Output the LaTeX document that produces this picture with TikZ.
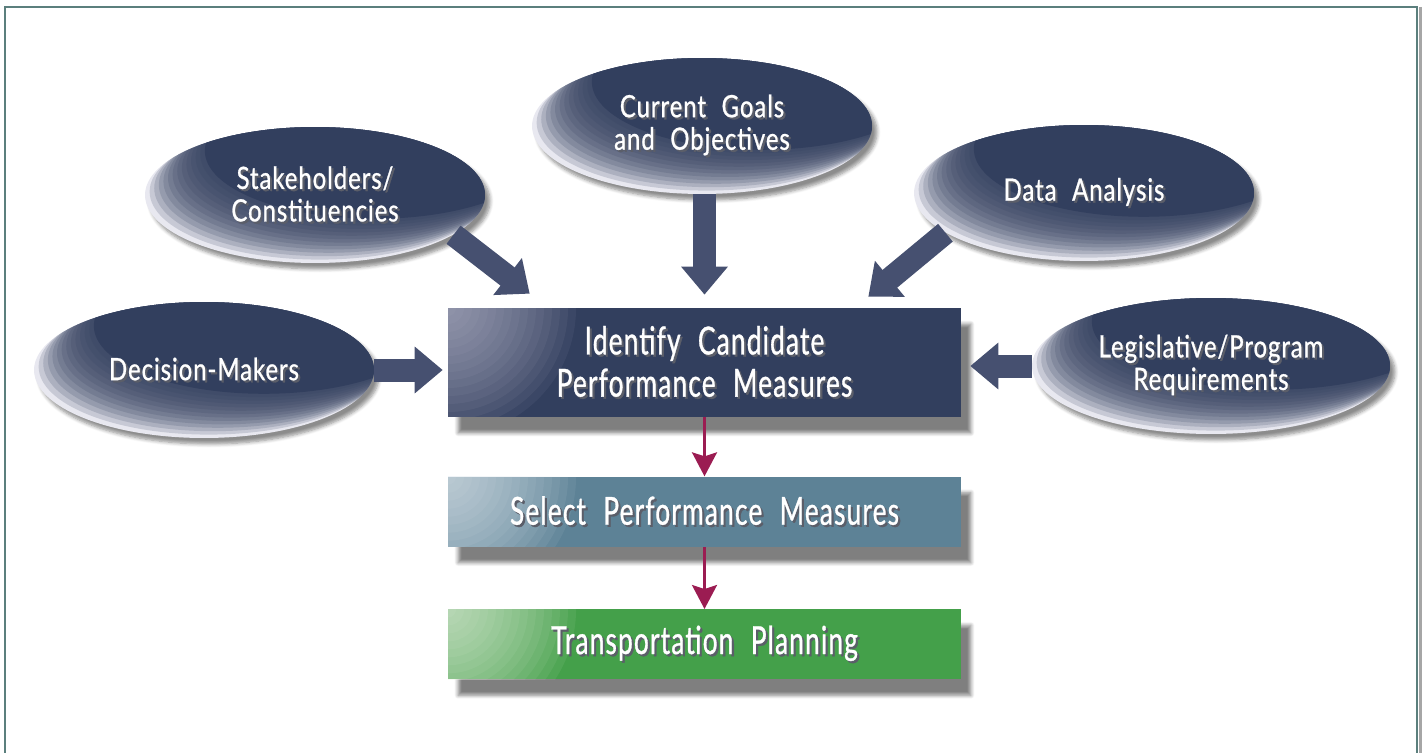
\documentclass[tikz,border=0pt]{standalone}
\usepackage{fontspec}
\setmainfont{Lato}[FakeStretch=0.78, LetterSpace=3, WordSpace=2.2, FakeBold=0.8]
\newfontfamily\boxfont{Lato}[FakeStretch=0.68, LetterSpace=3, WordSpace=2.2, FakeBold=0.8]
\usetikzlibrary{arrows.meta, positioning, calc, shadows, shadows.blur, shapes.geometric}

\definecolor{navy}{RGB}{50,63,94}
\definecolor{navyglow}{RGB}{232,232,240}
\definecolor{boxglow}{RGB}{190,190,208}
\definecolor{arrowblue}{RGB}{70,80,112}
\definecolor{steel}{RGB}{93,130,150}
\definecolor{steelglow}{RGB}{232,238,243}
\definecolor{leaf}{RGB}{68,160,74}
\definecolor{leafglow}{RGB}{238,246,232}
\definecolor{maroon}{RGB}{155,28,82}
\definecolor{framegreen}{RGB}{91,127,125}
\definecolor{textshade}{RGB}{20,25,40}

% white text with a dark offset copy underneath
\newcommand{\shadowed}[1]{\makebox[0pt][l]{\kern1.2pt\raisebox{-1.2pt}{\color{textshade!70}#1}}#1}

\begin{document}
\begin{tikzpicture}
   [
      x=0.02cm, y=-0.02cm,
      source/.style={ellipse, minimum width=6.8cm, minimum height=2.72cm, inner sep=0pt,
                     fill=navyglow, text=white, align=center,
                     blur shadow={shadow xshift=0.1cm, shadow yshift=-0.12cm, shadow opacity=45, shadow blur steps=6},
                     path picture={
                        \foreach \k/\op in {1/0.18,2/0.18,3/0.18,4/0.18,5/0.18,6/0.18,7/0.18,8/0.18,9/0.18,10/0.18,11/0.18,12/0.18,13/1}
                           \fill[navy, opacity=\op] let \p1 = ($(path picture bounding box.north east)-(path picture bounding box.center)$) in
                              ([shift={(4.6*\k,-3.4*\k)}]path picture bounding box.center) ellipse [x radius=\x1, y radius=\y1];},
                     font=\fontsize{17.5}{18.5}\selectfont},
      stage box/.style={rectangle, minimum width=10.26cm, minimum height=1.4cm, inner sep=0pt,
                        text=white, align=center,
                        blur shadow={shadow xshift=0.2cm, shadow yshift=-0.32cm, shadow opacity=50, shadow blur steps=8},
                        font=\boxfont\fontsize{22}{24}\selectfont},
      corner glow/.style 2 args={fill=#2, path picture={
                        \foreach \k in {1,...,16}
                           \fill[#1, opacity=0.07] (path picture bounding box.north west) circle (0.16cm*\k);}},
      feed arrow/.style={line width=0.46cm, arrowblue, -{Triangle[width=0.9cm, length=0.56cm]}},
      step arrow/.style={line width=0.06cm, maroon, -{Stealth[width=0.5cm, length=0.48cm, inset=0.08cm]}},
      frame line/.style={line width=0.05cm, framegreen}
   ]

   \useasboundingbox (0,0) rectangle (1422,753);

   % =======================================================
   % Frame
   % =======================================================
   \draw[gray!70, line width=0.06cm] (1420,7) -- (1420,760);
   \draw[frame line] (5,760) -- (5,7) -- (1417,7) -- (1417,760);

   % =======================================================
   % Inputs (ellipses)
   % =======================================================
   \node[source] (goals) at (702,126) {\shadowed{Current Goals}\\\shadowed{and Objectives}};
   \node[source] (stake) at (315,195) {\shadowed{Stakeholders/}\\\shadowed{Constituencies}};
   \node[source] (data) at (1084,193) {\shadowed{Data Analysis}};
   \node[source] (dm) at (204,370) {\shadowed{Decision-Makers}};
   \node[source, minimum width=7.16cm] (leg) at (1211,366)
      {\shadowed{Legislative/Program}\\\shadowed{Requirements}};

   % =======================================================
   % Process boxes
   % =======================================================
   \node[stage box, corner glow={boxglow}{navy}, minimum height=2.18cm] (identify) at (704.5,362.5)
      {\shadowed{Identify Candidate}\\\shadowed{Performance Measures}};
   \node[stage box, corner glow={steelglow}{steel}, below=1.18cm of identify] (select)
      {\shadowed{Select Performance Measures}};
   \node[stage box, corner glow={leafglow}{leaf}, below=1.24cm of select] (transp)
      {\shadowed{Transportation Planning}};

   % Block arrows into the first box
   \draw[feed arrow] (stake.-16) -- ([shift={(82,-14)}]identify.north west);
   \draw[feed arrow] (identify.north |- goals.south) -- ([shift={(0,-13)}]identify.north);
   \draw[feed arrow] (data.196) -- ([shift={(-93,-11)}]identify.north east);
   \draw[feed arrow] (dm.east) -- ([shift={(-5,0)}]dm.east -| identify.west);
   \draw[feed arrow] (leg.west) -- ([shift={(9,0)}]leg.west -| identify.east);

   % Flow between boxes
   \draw[step arrow] (identify) -- (select);
   \draw[step arrow] (select) -- (transp);

\end{tikzpicture}
\end{document}
